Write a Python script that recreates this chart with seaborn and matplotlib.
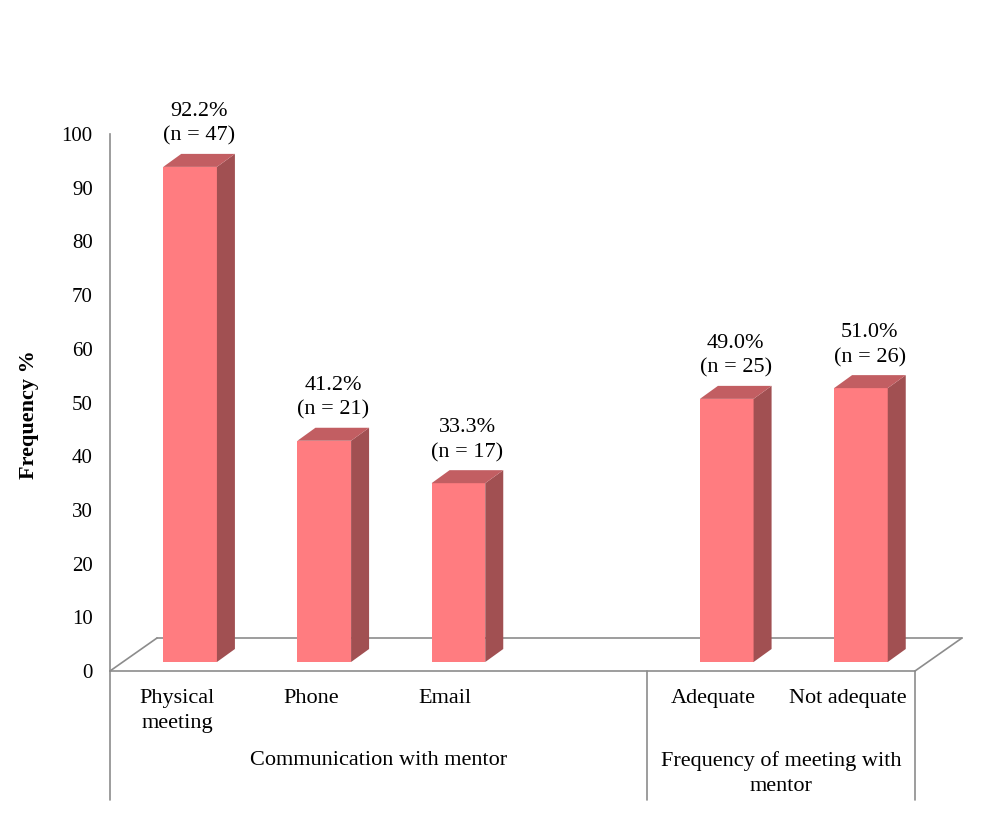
import matplotlib
matplotlib.use("Agg")
import matplotlib.pyplot as plt
import matplotlib.transforms as mtransforms
from matplotlib.patches import Polygon
from matplotlib.lines import Line2D
import pandas as pd
import seaborn as sns

categories = ["Physical\nmeeting", "Phone", "Email", "Adequate", "Not adequate"]
percent = [92.2, 41.2, 33.3, 49.0, 51.0]
counts = [47, 21, 17, 25, 26]
slot_order = ["Physical\nmeeting", "Phone", "Email", " ", "Adequate", "Not adequate"]
groups = ["Communication with mentor", "Frequency of meeting with\nmentor"]
group_edges = [(-0.5, 3.5), (3.5, 5.5)]

front_col = "#FF7C80"
top_col = "#C25E62"
side_col = "#A15052"
line_col = "#8C8C8C"

# pixel offsets for the fake 3d depth
floor_depth = (47, 33)
bar_front = (13, 9)
bar_back = (31, 22)

sns.set_style("white")
plt.rcParams["font.family"] = ["Liberation Serif", "DejaVu Serif"]
plt.rcParams["text.color"] = "black"
fs = 16
ls = 1.42

W, H = 999, 830
fig = plt.figure(figsize=(W / 100, H / 100), dpi=100)
ax = fig.add_axes([110 / W, (H - 671) / H, (915 - 110) / W, (671 - 134) / H])

df = pd.DataFrame({"cat": categories, "pct": percent})
sns.barplot(data=df, x="cat", y="pct", order=slot_order, color=front_col,
            saturation=1, width=0.4, linewidth=0, ax=ax, zorder=3)
ax.set_xlim(-0.5, 5.5)
ax.set_ylim(0, 100)
ax.set_yticks(range(0, 101, 10))
ax.set_xlabel("")
ax.set_ylabel("")

for s in ["top", "right", "bottom"]:
    ax.spines[s].set_visible(False)
ax.spines["left"].set_color(line_col)
ax.spines["left"].set_linewidth(1.2)
ax.tick_params(axis="y", length=5.5, width=1.2, color=line_col, labelsize=15,
               pad=7, labelcolor="black")
ax.tick_params(axis="x", length=0, labelsize=fs, pad=13, labelcolor="black")
for t in ax.get_xticklabels():
    t.set_linespacing(ls)

ident = mtransforms.IdentityTransform()

# floor
fl = ax.transData.transform((-0.5, 0))
fr = ax.transData.transform((5.5, 0))
bl = fl + floor_depth
br = fr + floor_depth
for a, b in [(fl, fr), (fl, bl), (bl, br), (br, fr)]:
    ax.add_line(Line2D([a[0], b[0]], [a[1], b[1]], color=line_col, lw=1.2,
                       transform=ident, clip_on=False, zorder=1))

# bars: shift front face and add top / side faces
for p in list(ax.patches):
    x0, w, h = p.get_x(), p.get_width(), p.get_height()
    p.set_transform(ax.transData + mtransforms.Affine2D().translate(*bar_front))
    lo = ax.transData.transform((x0, 0))
    hi = ax.transData.transform((x0 + w, h))
    f = bar_front
    b = bar_back
    side = [(hi[0] + f[0], lo[1] + f[1]), (hi[0] + f[0], hi[1] + f[1]),
            (hi[0] + b[0], hi[1] + b[1]), (hi[0] + b[0], lo[1] + b[1])]
    top = [(lo[0] + f[0], hi[1] + f[1]), (hi[0] + f[0], hi[1] + f[1]),
           (hi[0] + b[0], hi[1] + b[1]), (lo[0] + b[0], hi[1] + b[1])]
    ax.add_patch(Polygon(side, closed=True, facecolor=side_col, lw=0,
                         transform=ident, clip_on=False, zorder=3))
    ax.add_patch(Polygon(top, closed=True, facecolor=top_col, lw=0,
                         transform=ident, clip_on=False, zorder=3))

# value labels
for cat, v, n in zip(categories, percent, counts):
    i = slot_order.index(cat)
    ax.annotate(f"{v:.1f}%\n(n = {n})", xy=(i, v), xytext=(22, 30),
                textcoords="offset pixels", ha="center", va="bottom",
                fontsize=fs, linespacing=ls)

# group separators and labels
y_low = (671 - 800) / (671 - 134)
xt = ax.get_xaxis_transform()
for x in [-0.5, 3.5, 5.5]:
    ax.add_line(Line2D([x, x], [0, y_low], color=line_col, lw=1.2,
                       transform=xt, clip_on=False))
y_grp = (671 - 751) / (671 - 134)
for name, (a, b) in zip(groups, group_edges):
    ax.text((a + b) / 2, y_grp, name, transform=xt, ha="center", va="top",
            fontsize=fs, linespacing=ls)

fig.text(29 / W, 1 - 415 / H, "Frequency %", rotation=90, ha="center",
         va="center", fontsize=fs, fontweight="bold")

fig.savefig("out.png", dpi=100)
